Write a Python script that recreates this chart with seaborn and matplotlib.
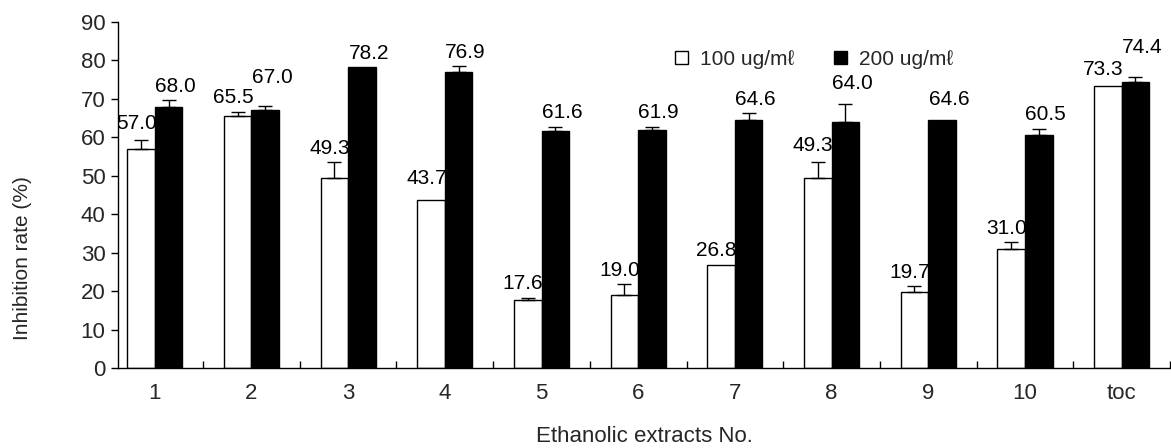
import numpy as np
import pandas as pd
import matplotlib
matplotlib.use("Agg")
import matplotlib.pyplot as plt
import seaborn as sns

# ---- data ----
extracts = ["1", "2", "3", "4", "5", "6", "7", "8", "9", "10", "toc"]
conc_labels = ["100 ug/m\u2113", "200 ug/m\u2113"]
rate_100 = [57.0, 65.5, 49.3, 43.7, 17.6, 19.0, 26.8, 49.3, 19.7, 31.0, 73.3]
rate_200 = [68.0, 67.0, 78.2, 76.9, 61.6, 61.9, 64.6, 64.0, 64.6, 60.5, 74.4]
err_100 = [2.4, 1.1, 4.2, 0.0, 0.6, 2.8, 0.0, 4.2, 1.5, 1.7, 0.0]
err_200 = [1.6, 1.1, 0.0, 1.6, 1.1, 0.9, 1.7, 4.6, 0.0, 1.7, 1.3]

# label nudges (layout only, data units)
nudge_100 = [0.6, 0, 0, 1.8, 0, 0, 0, 0.6, 0, 0, 0.7]
nudge_200 = [0, 3.7, 0, 0, 0, 0, 0, 1.8, 1.5, 0, 4.0]

sns.set_theme(style="white")
plt.rcParams["font.family"] = ["Liberation Sans", "DejaVu Sans"]

df = pd.DataFrame({
    "extract": extracts * 2,
    "rate": rate_100 + rate_200,
    "conc": [conc_labels[0]] * len(extracts) + [conc_labels[1]] * len(extracts),
})

fig = plt.figure(figsize=(11.71, 4.48), dpi=100)
ax = fig.add_axes([118 / 1171, 1 - 368 / 448, 1052 / 1171, 346 / 448])

sns.barplot(data=df, x="extract", y="rate", hue="conc", order=extracts,
            hue_order=conc_labels, palette=["white", "black"],
            edgecolor="black", linewidth=1.0, width=0.57, errorbar=None,
            ax=ax, legend=True)

# error bars & value labels, using bar geometry from the axes
white_bars, black_bars = ax.containers[0], ax.containers[1]
for patch, v, e, n in zip(white_bars.patches, rate_100, err_100, nudge_100):
    xc = patch.get_x() + patch.get_width() / 2
    if e > 0:
        ax.errorbar([xc], [v], yerr=[[0], [e]], fmt="none", ecolor="black",
                    elinewidth=1.0, capsize=5, capthick=1.0, zorder=3)
    xr = patch.get_x() + patch.get_width() + 0.02
    ax.text(xr, v + e + 1.2 + n, f"{v:.1f}", ha="right", va="bottom",
            fontsize=15, color="black", zorder=6)
for patch, v, e, n in zip(black_bars.patches, rate_200, err_200, nudge_200):
    xc = patch.get_x() + patch.get_width() / 2
    if e > 0:
        ax.errorbar([xc], [v], yerr=[[0], [e]], fmt="none", ecolor="black",
                    elinewidth=1.0, capsize=5, capthick=1.0, zorder=3)
    ax.text(xc + 0.07, v + e + 1.2 + n, f"{v:.1f}", ha="center", va="bottom",
            fontsize=15, color="black", zorder=6)

ax.set_xlim(-0.38, 10.5)
ax.set_ylim(0, 90)
ax.set_yticks(np.arange(0, 91, 10))
ax.tick_params(axis="y", direction="out", length=5, width=1, color="black",
               labelsize=16, pad=4, left=True)
ax.tick_params(axis="x", which="major", length=0, labelsize=16, pad=11)
ax.set_xticks(np.arange(0.5, 10.6, 1.0), minor=True)
ax.tick_params(axis="x", which="minor", direction="in", length=5, width=1,
               color="black", bottom=True)

for s in ["top", "right"]:
    ax.spines[s].set_visible(False)
for s in ["left", "bottom"]:
    ax.spines[s].set_color("black")
    ax.spines[s].set_linewidth(1.0)

ax.set_xlabel("Ethanolic extracts No.", fontsize=16, labelpad=16)
ax.set_ylabel("Inhibition rate (%)", fontsize=15)
ax.yaxis.set_label_coords(-0.082, 0.318)

handles, labels = ax.get_legend_handles_labels()
ax.legend(handles, labels, loc="center", bbox_to_anchor=(0.662, 0.893),
          ncol=2, frameon=False, fontsize=15, handlelength=0.6,
          handleheight=0.6, handletextpad=0.6, columnspacing=1.9)

fig.savefig("out.png", dpi=100)
